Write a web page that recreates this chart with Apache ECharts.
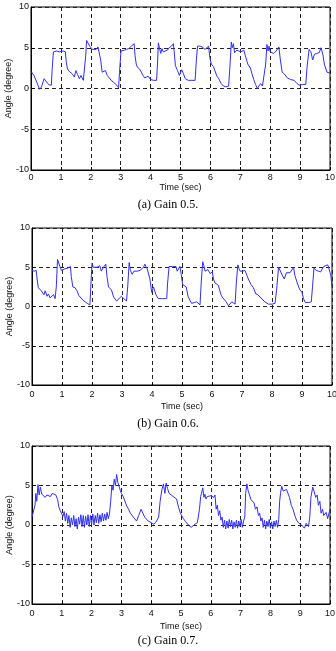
<!DOCTYPE html>
<html>
<head>
<meta charset="utf-8">
<script src="https://cdn.jsdelivr.net/npm/echarts@6/dist/echarts.min.js"></script>
<style>
  html, body { margin: 0; padding: 0; background: #fff; }
  #chart { width: 336px; height: 651px; }
</style>
</head>
<body>
<div id="chart"></div>
<script>
// x ticks (sec) and y ticks (degree)
var timeTicks = [0, 1, 2, 3, 4, 5, 6, 7, 8, 9, 10];
var angleTicks = [-10, -5, 0, 5, 10];
var captions = ["(a) Gain 0.5.", "(b) Gain 0.6.", "(c) Gain 0.7."];

// (a) Gain 0.5
var timeA = [0.00, 0.10, 0.20, 0.29, 0.35, 0.44, 0.52, 0.60, 0.68, 0.71, 0.75, 0.80, 0.85, 0.90, 0.95, 1.00, 1.08, 1.15, 1.18, 1.22,
  1.28, 1.33, 1.38, 1.45, 1.50, 1.56, 1.62, 1.67, 1.75, 1.80, 1.83, 1.86, 1.92, 1.96, 2.00, 2.06, 2.12, 2.18, 2.24, 2.29,
  2.33, 2.38, 2.44, 2.49, 2.55, 2.62, 2.68, 2.75, 2.80, 2.87, 2.93, 2.96, 3.01, 3.07, 3.12, 3.19, 3.27, 3.36, 3.41, 3.45,
  3.48, 3.52, 3.56, 3.63, 3.69, 3.75, 3.80, 3.86, 3.92, 4.00, 4.10, 4.20, 4.23, 4.26, 4.30, 4.34, 4.38, 4.42, 4.48, 4.56,
  4.62, 4.70, 4.76, 4.79, 4.83, 4.90, 4.96, 5.04, 5.10, 5.16, 5.26, 5.38, 5.49, 5.53, 5.57, 5.65, 5.72, 5.78, 5.82, 5.88,
  5.94, 5.98, 6.03, 6.10, 6.16, 6.22, 6.28, 6.36, 6.44, 6.52, 6.61, 6.65, 6.70, 6.73, 6.77, 6.81, 6.88, 6.95, 7.02, 7.12,
  7.17, 7.25, 7.34, 7.39, 7.45, 7.51, 7.57, 7.62, 7.68, 7.74, 7.80, 7.85, 7.89, 7.93, 7.96, 8.00, 8.05, 8.12, 8.20, 8.29,
  8.34, 8.40, 8.47, 8.57, 8.68, 8.80, 8.90, 8.97, 9.08, 9.19, 9.23, 9.30, 9.36, 9.42, 9.48, 9.56, 9.64, 9.70, 9.76, 9.81,
  9.90, 10.0];
var angleA = [2.1, 1.6, 0.7, -0.1, 0.2, 1.2, 0.8, 0.45, 0.4, 2.5, 4.5, 4.3, 4.6, 4.4, 4.5, 4.3, 4.6, 4.5, 3.2, 2.4,
  2.1, 2.2, 1.8, 1.4, 2.2, 1.7, 1.2, 1.6, 1.0, 1.1, 4.0, 5.9, 5.8, 5.2, 5.0, 4.8, 5.0, 4.8, 5.1, 5.0,
  3.5, 2.0, 1.8, 2.2, 1.6, 1.3, 1.0, 0.8, 0.6, 0.4, 0.1, 2.0, 4.6, 4.8, 4.7, 4.8, 4.9, 5.2, 5.0, 5.5,
  4.0, 3.0, 2.6, 2.4, 2.2, 1.6, 1.3, 1.4, 1.5, 1.1, 1.0, 1.0, 3.0, 5.6, 4.9, 4.3, 4.9, 4.5, 4.5, 4.7,
  5.0, 5.2, 5.5, 4.5, 2.8, 2.2, 1.6, 2.3, 1.8, 1.2, 1.0, 1.0, 1.0, 3.5, 5.2, 5.2, 5.1, 5.2, 4.8, 5.0,
  5.2, 3.8, 3.0, 2.7, 2.5, 1.5, 1.2, 0.6, 0.3, 0.2, 0.3, 2.5, 5.7, 5.0, 5.5, 4.4, 4.7, 4.6, 4.5, 4.7,
  4.0, 3.0, 2.5, 1.8, 1.1, 0.5, 0.0, 0.3, 0.6, 0.3, 0.4, 3.0, 5.4, 4.6, 5.2, 4.5, 4.5, 4.3, 4.6, 5.1,
  3.5, 2.0, 1.8, 1.3, 1.1, 1.0, 0.6, 0.4, 0.5, 0.5, 2.5, 4.8, 4.5, 3.5, 4.2, 4.3, 4.4, 5.0, 4.2, 3.0,
  2.0, 1.9];

// (b) Gain 0.6
var timeB = [0.00, 0.07, 0.14, 0.17, 0.21, 0.26, 0.31, 0.35, 0.40, 0.44, 0.50, 0.55, 0.60, 0.65, 0.72, 0.77, 0.81, 0.85, 0.90, 0.94,
  0.98, 1.04, 1.10, 1.15, 1.20, 1.28, 1.31, 1.36, 1.43, 1.50, 1.56, 1.62, 1.70, 1.76, 1.84, 1.93, 1.96, 2.00, 2.04, 2.10,
  2.17, 2.26, 2.31, 2.38, 2.46, 2.50, 2.55, 2.60, 2.65, 2.72, 2.82, 2.90, 2.98, 3.06, 3.15, 3.19, 3.24, 3.28, 3.34, 3.40,
  3.50, 3.60, 3.65, 3.72, 3.76, 3.84, 3.90, 3.93, 3.99, 4.05, 4.13, 4.21, 4.35, 4.49, 4.52, 4.57, 4.68, 4.80, 4.84, 4.93,
  4.97, 5.02, 5.08, 5.14, 5.20, 5.26, 5.32, 5.41, 5.49, 5.60, 5.64, 5.69, 5.73, 5.77, 5.86, 5.94, 6.01, 6.05, 6.10, 6.21,
  6.30, 6.34, 6.47, 6.55, 6.66, 6.77, 6.81, 6.86, 6.90, 6.94, 7.02, 7.10, 7.16, 7.21, 7.30, 7.38, 7.46, 7.53, 7.60, 7.66,
  7.76, 7.88, 8.00, 8.10, 8.15, 8.22, 8.28, 8.34, 8.41, 8.48, 8.60, 8.66, 8.72, 8.76, 8.84, 8.92, 9.00, 9.05, 9.11, 9.22,
  9.31, 9.35, 9.40, 9.47, 9.55, 9.62, 9.70, 9.78, 9.86, 9.92, 9.96, 10.0];
var angleB = [4.6, 4.5, 4.6, 3.5, 2.4, 2.3, 2.0, 2.1, 1.5, 2.0, 1.3, 1.6, 1.1, 0.9, 1.5, 1.0, 2.5, 6.0, 5.8, 5.0,
  4.6, 4.5, 4.8, 5.0, 4.9, 5.1, 3.8, 2.5, 2.4, 2.0, 1.4, 1.2, 0.8, 0.6, 0.4, 0.2, 2.5, 5.5, 5.0, 4.8,
  5.0, 5.2, 4.5, 5.0, 5.4, 3.8, 2.5, 2.3, 2.1, 1.2, 0.7, 1.0, 1.3, 1.0, 0.7, 2.5, 5.6, 4.6, 4.1, 4.5,
  4.5, 4.6, 4.7, 5.0, 5.4, 4.8, 4.8, 3.5, 1.8, 2.5, 1.5, 1.0, 1.0, 1.0, 3.0, 5.1, 5.1, 5.1, 4.5, 5.1,
  4.2, 2.8, 2.7, 2.5, 1.3, 0.8, 0.4, 0.5, 0.6, 0.2, 3.0, 5.7, 5.2, 4.5, 4.7, 4.2, 4.4, 3.5, 3.0, 2.7,
  1.5, 1.2, 0.6, 0.1, 0.6, 0.3, 3.0, 5.3, 4.8, 4.5, 4.5, 4.6, 4.8, 3.5, 2.8, 2.4, 1.6, 1.5, 1.2, 1.0,
  0.6, 0.3, 0.3, 0.4, 2.0, 5.0, 4.9, 4.0, 3.5, 4.3, 4.3, 4.5, 5.0, 4.0, 3.0, 2.2, 1.8, 1.0, 0.5, 0.5,
  0.6, 2.5, 4.9, 4.6, 4.5, 4.4, 5.0, 5.2, 5.3, 5.2, 4.0, 2.5];

// (c) Gain 0.7
var timeC = [0.00, 0.06, 0.10, 0.13, 0.16, 0.20, 0.24, 0.28, 0.33, 0.38, 0.44, 0.50, 0.56, 0.62, 0.68, 0.74, 0.80, 0.86, 0.90, 0.95,
  1.00, 1.04, 1.08, 1.12, 1.16, 1.20, 1.24, 1.28, 1.32, 1.36, 1.40, 1.44, 1.48, 1.52, 1.56, 1.60, 1.64, 1.68, 1.72, 1.76,
  1.80, 1.84, 1.88, 1.92, 1.96, 2.00, 2.04, 2.08, 2.12, 2.16, 2.20, 2.24, 2.28, 2.32, 2.36, 2.40, 2.44, 2.48, 2.52, 2.56,
  2.60, 2.64, 2.68, 2.72, 2.76, 2.80, 2.84, 2.88, 2.92, 2.96, 3.00, 3.06, 3.12, 3.18, 3.24, 3.30, 3.40, 3.51, 3.58, 3.66,
  3.72, 3.78, 3.90, 4.00, 4.07, 4.15, 4.25, 4.30, 4.36, 4.41, 4.46, 4.50, 4.55, 4.60, 4.67, 4.74, 4.80, 4.85, 4.92, 4.98,
  5.08, 5.16, 5.25, 5.34, 5.40, 5.47, 5.55, 5.62, 5.66, 5.70, 5.73, 5.77, 5.80, 5.84, 5.88, 5.94, 6.00, 6.06, 6.10, 6.14,
  6.18, 6.22, 6.26, 6.30, 6.34, 6.38, 6.42, 6.46, 6.50, 6.54, 6.58, 6.62, 6.66, 6.70, 6.74, 6.78, 6.82, 6.86, 6.90, 6.94,
  6.98, 7.02, 7.06, 7.10, 7.14, 7.17, 7.21, 7.25, 7.30, 7.35, 7.40, 7.45, 7.50, 7.55, 7.60, 7.64, 7.68, 7.72, 7.76, 7.80,
  7.84, 7.88, 7.92, 7.96, 8.00, 8.04, 8.08, 8.12, 8.16, 8.20, 8.24, 8.28, 8.31, 8.34, 8.38, 8.43, 8.49, 8.54, 8.60, 8.64,
  8.70, 8.76, 8.82, 8.88, 8.96, 9.05, 9.14, 9.20, 9.28, 9.32, 9.36, 9.42, 9.47, 9.52, 9.57, 9.61, 9.66, 9.70, 9.75, 9.79,
  9.83, 9.87, 9.92, 9.96, 10.0];
var angleC = [1.0, 1.2, 2.5, 4.0, 3.0, 5.1, 3.8, 4.8, 3.9, 4.0, 3.5, 3.8, 3.9, 3.6, 4.0, 3.9, 3.8, 3.2, 2.3, 1.8,
  2.0, 1.1, 1.7, 0.5, 1.5, 0.2, 1.2, -0.3, 0.9, 0.0, 1.2, -0.2, 0.8, -0.5, 1.0, 0.1, 1.3, -0.2, 1.2, -0.3,
  1.1, 0.0, 1.3, -0.2, 1.2, 0.1, 1.4, 0.0, 1.2, 0.3, 1.5, 0.2, 1.3, 0.4, 1.5, 0.5, 1.4, 0.6, 1.6, 0.8,
  1.4, 3.0, 5.0, 4.4, 5.8, 5.0, 6.4, 5.4, 5.6, 4.4, 4.0, 3.6, 3.6, 2.4, 2.0, 1.5, 1.0, 0.5, 1.2, 2.0,
  1.5, 1.0, 0.5, 0.3, 0.1, 0.3, 1.0, 3.0, 4.5, 5.2, 4.0, 5.3, 4.6, 4.0, 3.8, 3.6, 3.5, 3.3, 2.2, 1.5,
  0.8, 0.4, 0.0, -0.3, -0.1, 0.1, 0.3, 2.0, 3.6, 4.2, 4.7, 3.5, 3.9, 3.3, 3.6, 3.4, 3.7, 3.8, 3.5, 3.8,
  2.0, 2.5, 1.2, 1.8, 0.6, 1.0, -0.3, 0.6, -0.5, 0.5, -0.4, 0.7, -0.2, 0.6, -0.5, 0.4, -0.3, 0.6, -0.4, 0.5,
  -0.2, 0.7, -0.3, 0.5, 1.0, 4.0, 5.2, 4.4, 3.8, 3.2, 3.0, 2.8, 2.0, 2.3, 1.2, 1.5, 0.5, 0.9, -0.3, 0.6,
  -0.5, 0.5, -0.2, 0.7, -0.4, 0.4, -0.5, 0.5, -0.2, 0.6, -0.3, 0.7, 3.0, 4.0, 4.9, 4.3, 4.2, 4.5, 4.3, 3.5,
  2.5, 2.0, 1.2, 0.6, 0.2, 0.0, -0.4, 0.2, -0.2, 1.0, 3.5, 4.8, 4.2, 3.5, 3.8, 2.5, 3.0, 1.5, 2.0, 1.2,
  1.0, 1.6, 0.8, 1.4, 2.0];

function pairs(xs, ys) {
  var out = [];
  for (var i = 0; i < xs.length; i++) {
    out.push([xs[i], ys[i]]);
  }
  return out;
}

var myecharts = echarts.init(document.getElementById("chart"));

// grid boxes, in px
var grids = [
  { left: 31, top: 7, width: 299, height: 163 },
  { left: 32, top: 228, width: 300, height: 157 },
  { left: 32, top: 446, width: 298, height: 158 }
];
var labelMargin = [3, 5, 5];
var nameGap = [13, 17, 18];
var captionTop = [199, 418, 635];

var dashed = { show: true, lineStyle: { color: "#222", type: [4, 3], width: 1 } };

var xAxes = [], yAxes = [], titles = [], series = [];
for (var k = 0; k < 3; k++) {
  xAxes.push({
    gridIndex: k,
    type: "value",
    min: timeTicks[0],
    max: timeTicks[timeTicks.length - 1],
    interval: 1,
    name: "Time (sec)",
    nameLocation: "middle",
    nameGap: nameGap[k],
    nameMoveOverlap: false,
    nameTextStyle: { fontFamily: "Liberation Sans", fontSize: 9, color: "#111" },
    axisLine: { onZero: false, lineStyle: { color: "#000", width: 1 } },
    axisTick: { inside: true, length: 3, lineStyle: { color: "#000" } },
    axisLabel: { margin: labelMargin[k], fontFamily: "Liberation Sans", fontSize: 9, color: "#111" },
    splitLine: dashed
  });
  yAxes.push({
    gridIndex: k,
    type: "value",
    min: angleTicks[0],
    max: angleTicks[angleTicks.length - 1],
    interval: 5,
    name: "Angle (degree)",
    nameLocation: "middle",
    nameGap: 18,
    nameMoveOverlap: false,
    nameTextStyle: { fontFamily: "Liberation Sans", fontSize: 9, color: "#111" },
    axisLine: { show: true, onZero: false, lineStyle: { color: "#000", width: 1 } },
    axisTick: { show: true, inside: true, length: 3, lineStyle: { color: "#000" } },
    axisLabel: { margin: 2, fontFamily: "Liberation Sans", fontSize: 9, color: "#111" },
    splitLine: dashed
  });
  titles.push({
    text: captions[k],
    left: "center",
    top: captionTop[k],
    padding: 0,
    textStyle: { fontFamily: "Liberation Serif", fontSize: 12, fontWeight: "normal", color: "#000" }
  });
}

var allTimes = [timeA, timeB, timeC];
var allAngles = [angleA, angleB, angleC];
for (var s = 0; s < 3; s++) {
  series.push({
    type: "line",
    xAxisIndex: s,
    yAxisIndex: s,
    data: pairs(allTimes[s], allAngles[s]),
    showSymbol: false,
    symbol: "none",
    animation: false,
    lineStyle: { color: "#3030f0", width: 1 }
  });
}

var Option = {
  backgroundColor: "#fff",
  animation: false,
  title: titles,
  grid: grids.map(function(g) {
    return {
      left: g.left, top: g.top, width: g.width, height: g.height,
      containLabel: false, outerBoundsMode: "none",
      show: true, borderColor: "#000", borderWidth: 1, backgroundColor: "transparent"
    };
  }),
  xAxis: xAxes,
  yAxis: yAxes,
  series: series
};
myecharts.setOption(Option);
</script>
</body>
</html>
